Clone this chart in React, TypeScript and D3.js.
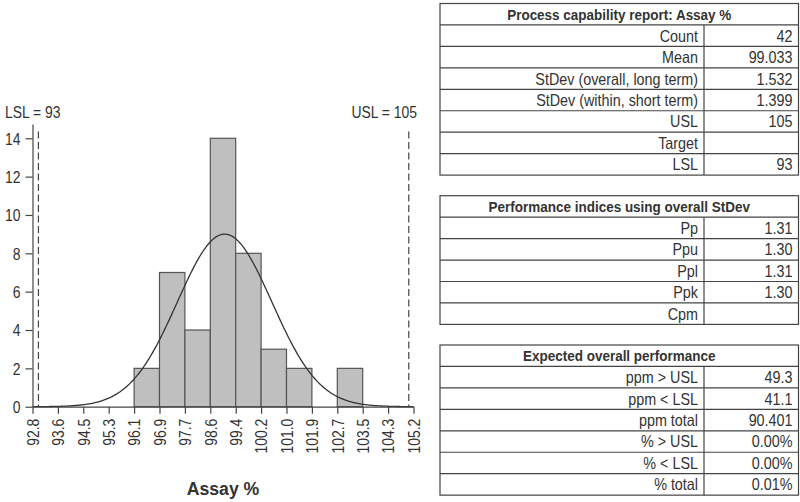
import React, { useEffect, useRef } from 'react';
import * as d3 from 'd3';

// Histogram bins (edges) and counts for Assay %
const binEdges = [92.808, 93.631, 94.454, 95.277, 96.1, 96.923, 97.746, 98.569, 99.392, 100.215, 101.038, 101.861, 102.684, 103.507, 104.33, 105.153];
const binCounts = [0, 0, 0, 0, 2, 7, 4, 14, 8, 3, 2, 0, 2, 0, 0];
const yTicks = [0, 2, 4, 6, 8, 10, 12, 14];

const sampleCount = 42;
const sampleMean = 99.033;
const sampleSd = 1.532;
const lsl = 93;
const usl = 105;

// Report tables
const capLabels = ['Count', 'Mean', 'StDev (overall, long term)', 'StDev (within, short term)', 'USL', 'Target', 'LSL'];
const capValues = ['42', '99.033', '1.532', '1.399', '105', '', '93'];
const perfLabels = ['Pp', 'Ppu', 'Ppl', 'Ppk', 'Cpm'];
const perfValues = ['1.31', '1.30', '1.31', '1.30', ''];
const expLabels = ['ppm > USL', 'ppm < LSL', 'ppm total', '% > USL', '% < LSL', '% total'];
const expValues = ['49.3', '41.1', '90.401', '0.00%', '0.00%', '0.01%'];

const FONT = "'Liberation Sans', Arial, Helvetica, sans-serif";
const TEXT = '#333';
const LINE = '#444';
const NARROW = 0.87;

const W = 800;
const H = 502;

const x = d3.scaleLinear().domain([binEdges[0], binEdges[binEdges.length - 1]]).range([32.5, 413.5]);
const y = d3.scaleLinear().domain([0, 14.75]).range([406.7, 123.9]);

type NTextProps = {
  x: number;
  y: number;
  size: number;
  anchor?: 'start' | 'middle' | 'end';
  bold?: boolean;
  sx?: number;
  children: React.ReactNode;
};

// Horizontally condensed text
function NText({ x, y, size, anchor = 'start', bold = false, sx = NARROW, children }: NTextProps) {
  return (
    <text
      transform={`translate(${x},${y}) scale(${sx},1)`}
      dy="0.36em"
      textAnchor={anchor}
      fontSize={size}
      fontWeight={bold ? 'bold' : 'normal'}
      fill={TEXT}
    >
      {children}
    </text>
  );
}

type TableProps = { top: number; title: string; labels: string[]; values: string[] };

const RowH = 21.45;
const tLeft = 440;
const tRight = 798.5;
const tSplit = 704;

function ReportTable({ top, title, labels, values }: TableProps) {
  const n = labels.length + 1;
  return (
    <g>
      <rect x={tLeft} y={top} width={tRight - tLeft} height={n * RowH} fill="#fff" stroke={LINE} strokeWidth={1.2} />
      <NText x={(tLeft + tRight) / 2} y={top + RowH / 2} anchor="middle" size={15.5} bold sx={0.87}>
        {title}
      </NText>
      {labels.map((l, i) => {
        const ry = top + (i + 1) * RowH;
        return (
          <g key={l}>
            <line x1={tLeft} x2={tRight} y1={ry} y2={ry} stroke={LINE} strokeWidth={1.2} />
            <line x1={tSplit} x2={tSplit} y1={ry} y2={ry + RowH} stroke={LINE} strokeWidth={1.2} />
            <NText x={tSplit - 6} y={ry + RowH / 2} anchor="end" size={16.5}>{l}</NText>
            <NText x={tRight - 6} y={ry + RowH / 2} anchor="end" size={16.5}>{values[i]}</NText>
          </g>
        );
      })}
    </g>
  );
}

export default function App() {
  const xAxisRef = useRef<SVGGElement>(null);
  const yAxisRef = useRef<SVGGElement>(null);

  useEffect(() => {
    const fmt = d3.format('.1f');
    const xa = d3.select(xAxisRef.current!);
    xa.call(d3.axisBottom(x).tickValues(binEdges).tickFormat((d) => fmt(d as number)).tickSize(7).tickSizeOuter(0));
    xa.selectAll('.tick text')
      .attr('transform', `rotate(-90) translate(-12,0) scale(${NARROW},1)`)
      .attr('text-anchor', 'end')
      .attr('x', 0)
      .attr('y', 0)
      .attr('dy', '0.36em')
      .attr('font-size', 16)
      .attr('font-family', FONT)
      .attr('fill', TEXT);
    xa.selectAll('path, line').attr('stroke', LINE).attr('stroke-width', 1.2);

    const ya = d3.select(yAxisRef.current!);
    ya.call(d3.axisLeft(y).tickValues(yTicks).tickSize(7).tickSizeOuter(0));
    ya.selectAll('.tick text')
      .attr('transform', `translate(-12,0) scale(${NARROW},1)`)
      .attr('x', 0)
      .attr('dy', '0.36em')
      .attr('font-size', 16)
      .attr('font-family', FONT)
      .attr('fill', TEXT);
    ya.selectAll('path, line').attr('stroke', LINE).attr('stroke-width', 1.2);
  }, []);

  // Fitted normal curve scaled to counts
  const bw = binEdges[1] - binEdges[0];
  const curvePts: [number, number][] = d3.range(0, 301).map((i) => {
    const v = binEdges[0] + (i / 300) * (binEdges[binEdges.length - 1] - binEdges[0]);
    const z = (v - sampleMean) / sampleSd;
    const dens = Math.exp(-0.5 * z * z) / (sampleSd * Math.sqrt(2 * Math.PI));
    return [v, sampleCount * bw * dens];
  });
  const curve = d3.line<[number, number]>().x((d) => x(d[0])).y((d) => y(d[1]))(curvePts) || '';

  return (
    <svg width={W} height={H} style={{ position: 'absolute', left: 0, top: 0, background: '#fff' }} fontFamily={FONT}>
      <rect width={W} height={H} fill="#fff" />
      {binCounts.map((c, i) =>
        c > 0 ? (
          <rect
            key={i}
            x={x(binEdges[i])}
            y={y(c)}
            width={x(binEdges[i + 1]) - x(binEdges[i])}
            height={y(0) - y(c)}
            fill="#bfbfc0"
            stroke="#555"
            strokeWidth={1.2}
          />
        ) : null
      )}
      <path d={curve} fill="none" stroke="#333" strokeWidth={1.3} />
      {[lsl, usl].map((v) => (
        <line key={v} x1={x(v)} x2={x(v)} y1={131.5} y2={y(0)} stroke="#444" strokeWidth={1.2} strokeDasharray="7,3.5" />
      ))}
      <NText x={5} y={112} size={16}>LSL = {lsl}</NText>
      <NText x={417} y={112} anchor="end" size={16}>USL = {usl}</NText>
      <g ref={xAxisRef} transform={`translate(0,${y(0)})`} />
      <g ref={yAxisRef} transform={`translate(${x(binEdges[0])},0)`} />
      <NText x={223} y={488} anchor="middle" size={19} bold sx={0.93}>Assay %</NText>

      <ReportTable top={3.5} title="Process capability report: Assay %" labels={capLabels} values={capValues} />
      <ReportTable top={195.7} title="Performance indices using overall StDev" labels={perfLabels} values={perfValues} />
      <ReportTable top={345} title="Expected overall performance" labels={expLabels} values={expValues} />
    </svg>
  );
}
